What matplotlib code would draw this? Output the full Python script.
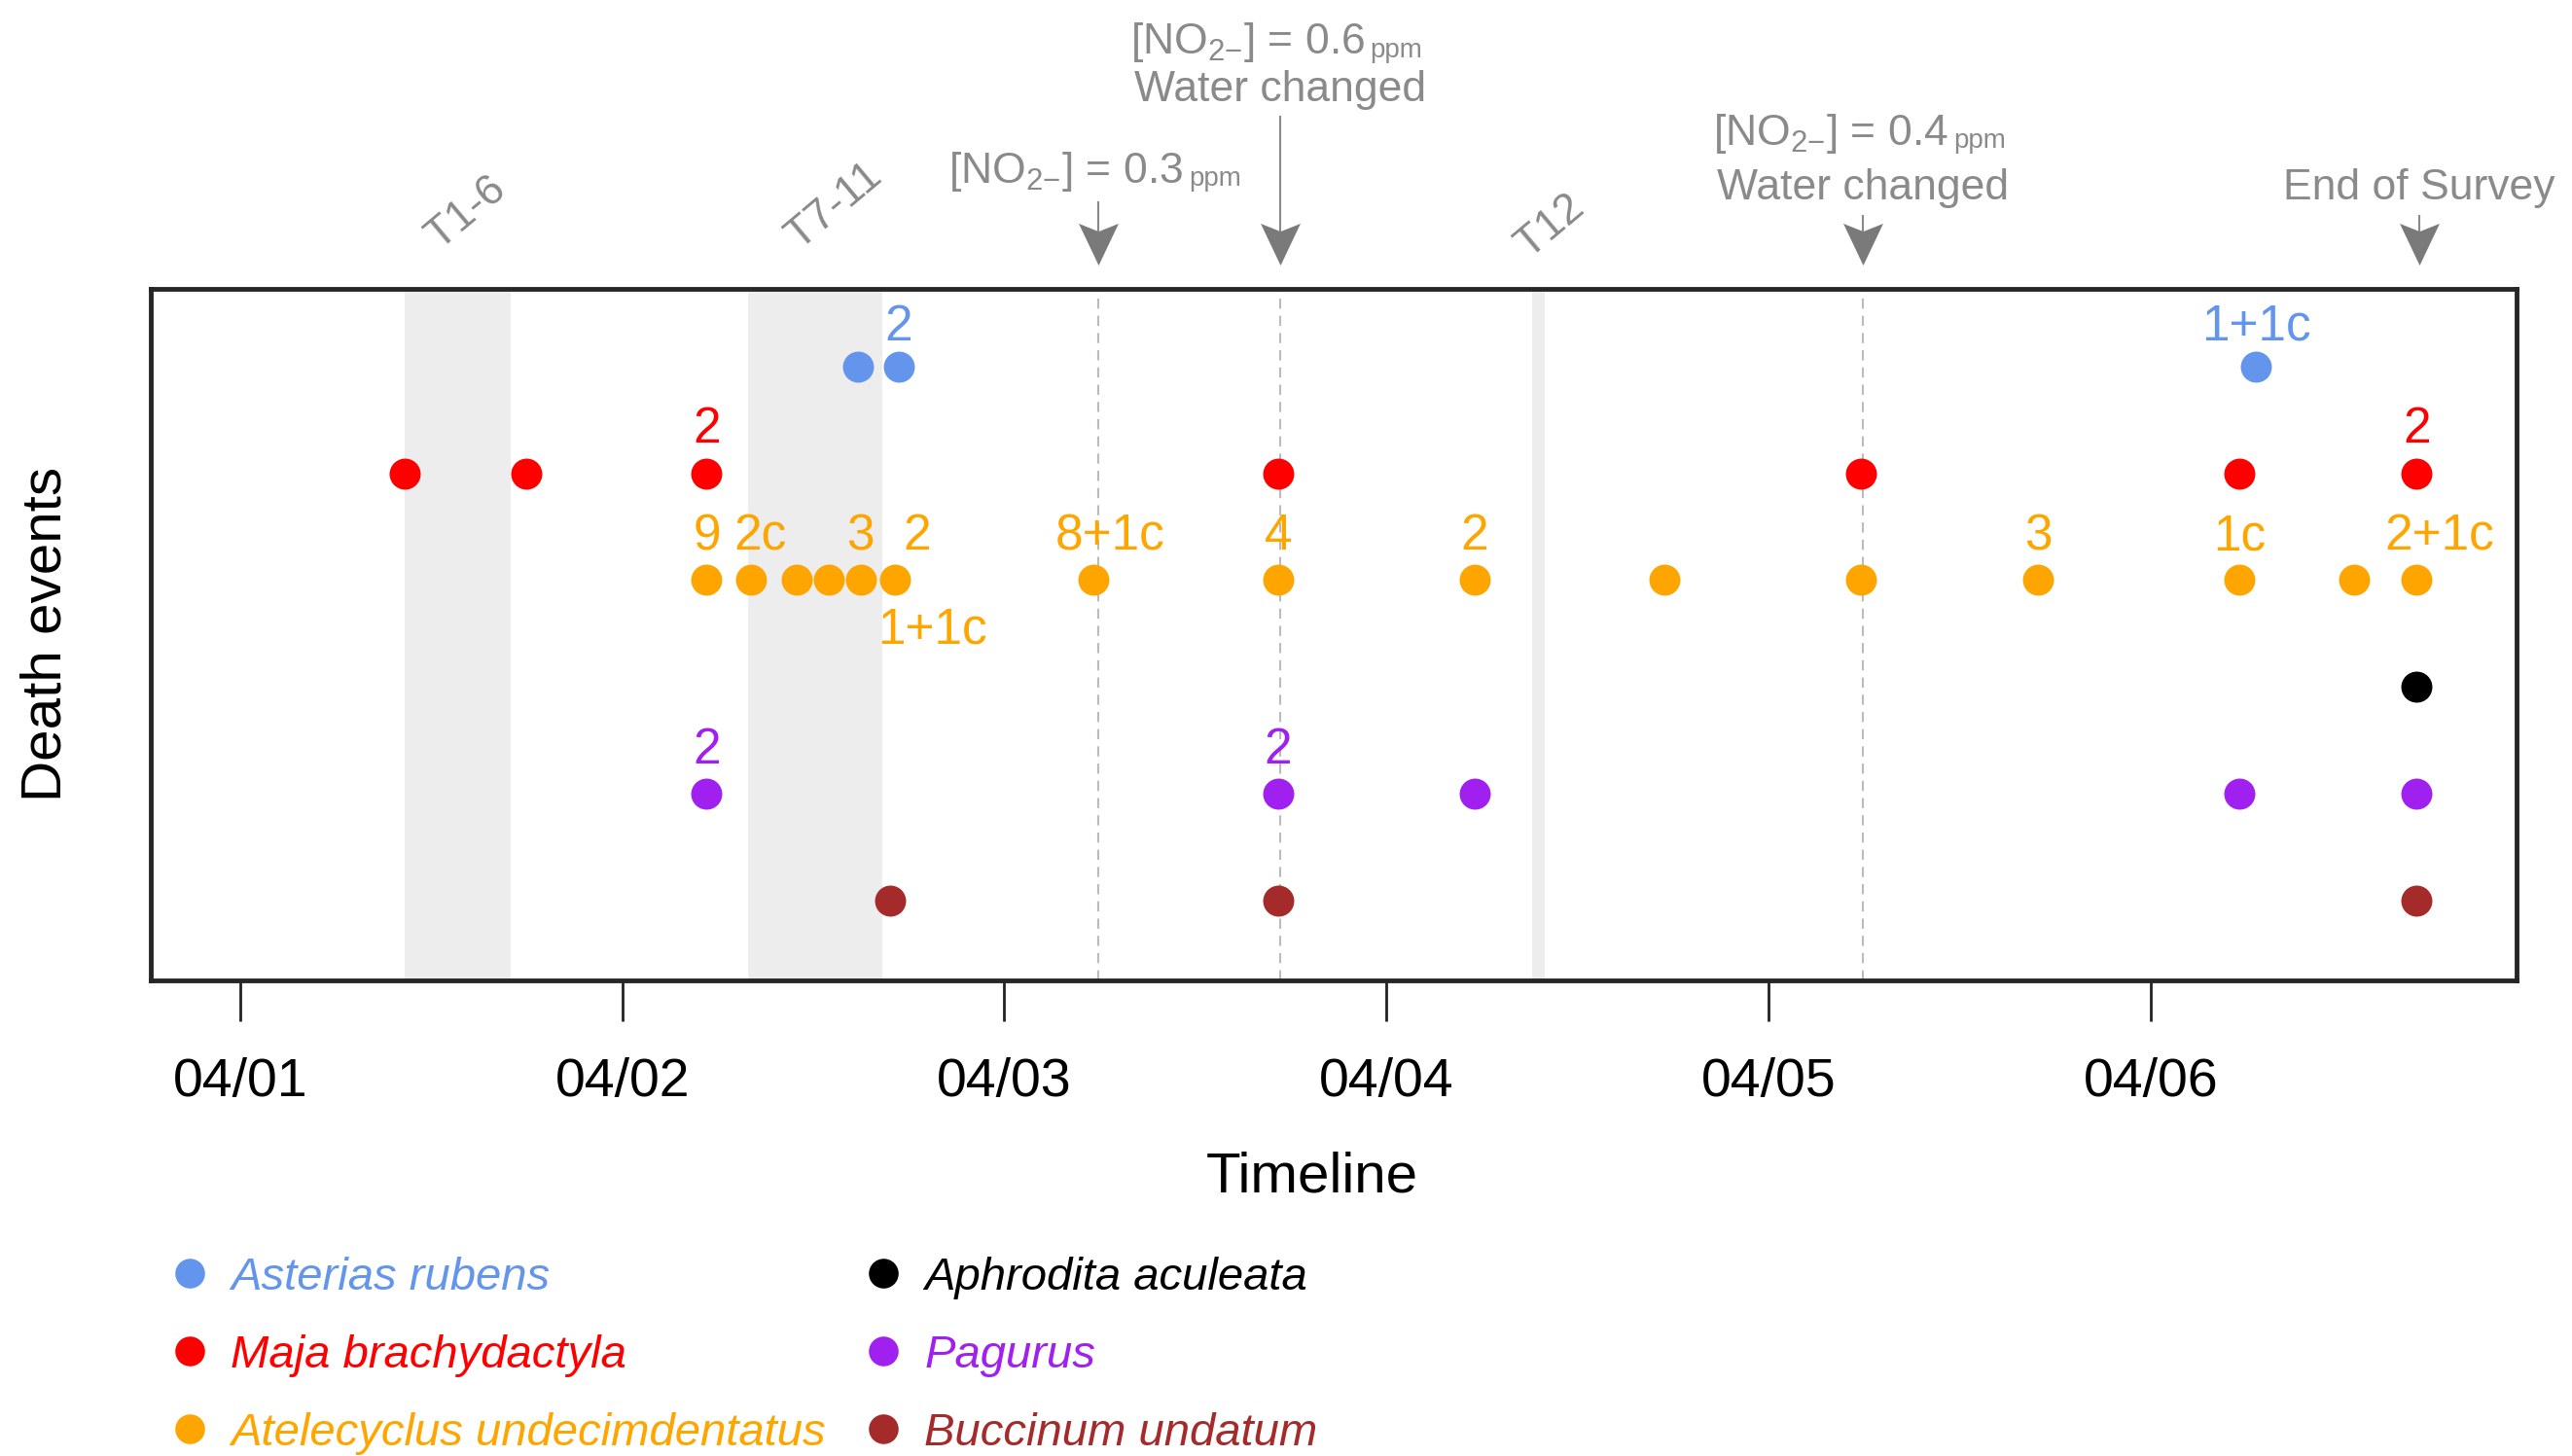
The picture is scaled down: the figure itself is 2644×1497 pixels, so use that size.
import matplotlib.pyplot as plt
import numpy as np
from matplotlib.lines import Line2D
from matplotlib.path import Path

plt.rcParams["font.family"] = ["Liberation Sans", "DejaVu Sans"]
plt.rcParams["mathtext.fontset"] = "custom"
plt.rcParams["mathtext.rm"] = "Liberation Sans"
plt.rcParams["mathtext.it"] = "Liberation Sans:italic"

# species (top row first) and their colours
species = [
    "Asterias rubens",
    "Maja brachydactyla",
    "Atelecyclus undecimdentatus",
    "Aphrodita aculeata",
    "Pagurus",
    "Buccinum undatum",
]
colors = ["#6495ED", "#FF0000", "#FFA500", "#000000", "#A020F0", "#A52A2A"]

# death events, in days since 04/01 00:00
asterias_t = [1.616, 1.723, 5.275]
maja_t = [0.431, 0.749, 1.221, 2.716, 4.242, 5.233, 5.696]
atelecyclus_t = [1.221, 1.338, 1.456, 1.541, 1.624, 1.713, 2.234, 2.716,
                 3.231, 3.726, 4.242, 4.705, 5.232, 5.533, 5.696]
aphrodita_t = [5.696]
pagurus_t = [1.221, 2.716, 3.231, 5.232, 5.696]
buccinum_t = [1.700, 2.716, 5.696]
events = [asterias_t, maja_t, atelecyclus_t, aphrodita_t, pagurus_t, buccinum_t]

# count labels: species index, event time, text, above/below
label_species = [0, 0, 1, 1, 2, 2, 2, 2, 2, 2, 2, 2, 2, 2, 2, 4, 4]
label_time = [1.723, 5.275, 1.221, 5.696, 1.221, 1.338, 1.624, 1.713, 1.713,
              2.234, 2.716, 3.231, 4.705, 5.232, 5.696, 1.221, 2.716]
label_text = ["2", "1+1c", "2", "2", "9", "2c", "3", "2", "1+1c",
              "8+1c", "4", "2", "3", "1c", "2+1c", "2", "2"]
label_below = [False, False, False, False, False, False, False, False, True,
               False, False, False, False, False, False, False, False]

# tank periods (shaded) and events on the timeline
period_names = ["T1-6", "T7-11", "T12"]
period_start = [0.430, 1.329, 3.382]
period_end = [0.707, 1.681, 3.415]
water_events = [2.246, 2.721, 4.246]
no2_values = ["0.3", "0.6", "0.4"]
end_of_survey = 5.702

day_ticks = [0, 1, 2, 3, 4, 5]
day_labels = ["04/01", "04/02", "04/03", "04/04", "04/05", "04/06"]

grey = "#8a8a8a"

fig = plt.figure(figsize=(26.44, 14.97), dpi=100)
ax = fig.add_axes([0.0586, 0.3266, 0.9198, 0.4750])
ax.set_xlim(-0.234, 5.957)
ax.set_ylim(0.25, 6.726)

levels = np.arange(len(species), 0, -1)

for s, e in zip(period_start, period_end):
    ax.axvspan(s, e, color="#EDEDED", lw=0, zorder=0)
for x in water_events:
    ax.axvline(x, color="#BBBBBB", lw=1.5, ls=(0, (5, 3.5)), zorder=1)

for t, lev, c in zip(events, levels, colors):
    ax.scatter(t, np.full(len(t), lev), s=23 ** 2, color=c, linewidths=0, zorder=3)

for si, t, txt, below in zip(label_species, label_time, label_text, label_below):
    # small right nudges used in the original to keep labels apart
    dx = 0.0
    if txt == "2c":
        dx = 0.022
    elif txt == "2" and si == 2 and t == 1.713:
        dx = 0.059
    elif txt == "1+1c" and si == 2:
        dx = 0.098
    elif txt == "8+1c":
        dx = 0.043
    elif txt == "2+1c":
        dx = 0.06
    up = 19.5 if si == 0 else 22.5
    ax.annotate(txt, xy=(t + dx, levels[si]), xytext=(0, -47 if below else up),
                textcoords="offset points", ha="center", va="baseline",
                fontsize=37, color=colors[si])

ax.set_xticks(day_ticks)
ax.set_xticklabels(day_labels)
ax.tick_params(axis="x", length=30, width=2, pad=27, labelsize=40, direction="out",
               color="#222222")
ax.set_yticks([])
for sp in ax.spines.values():
    sp.set_linewidth(3.5)
    sp.set_color("#262626")

fig.text(48 / 2644, 1 - 652 / 1497, "Death events", rotation=90,
         ha="center", va="center", fontsize=42)
fig.text(1349 / 2644, 1 - 1210 / 1497, "Timeline", ha="center", va="center", fontsize=42)

# annotations above the frame
trans = ax.get_xaxis_transform()
head = Path([(0, -1), (-0.95, 1), (0, 0.62), (0.95, 1), (0, -1)],
            [Path.MOVETO, Path.LINETO, Path.LINETO, Path.LINETO, Path.CLOSEPOLY])
head_y = 1.064
arrow_x = water_events + [end_of_survey]
shaft_top = [1.125, 1.249, 1.1055, 1.1055]
for x, top in zip(arrow_x, shaft_top):
    ax.plot([x, x], [top, head_y + 0.02], color=grey, lw=1.5, transform=trans, clip_on=False)
    ax.plot([x], [head_y], marker=head, ms=31, color="#7a7a7a", mec="none",
            transform=trans, clip_on=False)


def no2_label(x, y, value):
    main = ax.annotate(r"[NO$_{2\mathrm{-}}$] = " + value, xy=(x, y), xycoords=trans,
                       xytext=(-24, 0), textcoords="offset points", ha="center",
                       va="center", fontsize=32, color=grey, annotation_clip=False)
    ax.annotate("ppm", xy=(1, 0), xycoords=main, xytext=(4, 1),
                textcoords="offset points", ha="left", va="bottom",
                fontsize=20, color=grey, annotation_clip=False)


no2_y = [1.170, 1.356, 1.225]
for x, v, y in zip(water_events, no2_values, no2_y):
    no2_label(x, y, v)
for x, y in [(water_events[1], 1.287), (water_events[2], 1.146)]:
    ax.text(x, y, "Water changed", transform=trans, ha="center", va="center",
            fontsize=32, color=grey, clip_on=False)
ax.text(end_of_survey, 1.146, "End of Survey", transform=trans, ha="center",
        va="center", fontsize=32, color=grey, clip_on=False)

period_shift = [0.024, 0.049, 0.031]
period_y = [1.110, 1.120, 1.091]
for name, s, e, dx, y in zip(period_names, period_start, period_end, period_shift, period_y):
    ax.text((s + e) / 2 + dx, y, name, transform=trans, rotation=40, ha="center",
            va="center", fontsize=32, color=grey, clip_on=False)

handles = [Line2D([], [], ls="none", marker="o", ms=22, color=c, mec="none") for c in colors]
fig.legend(handles, species, loc="upper left", bbox_to_anchor=(171 / 2644, 1 - 1292 / 1497),
           ncol=2, frameon=False, prop={"style": "italic", "size": 34},
           labelcolor=colors, handlelength=1.0, handletextpad=0.4,
           columnspacing=0.75, labelspacing=0.76, borderpad=0, borderaxespad=0)

fig.savefig("out.png", dpi=100)
